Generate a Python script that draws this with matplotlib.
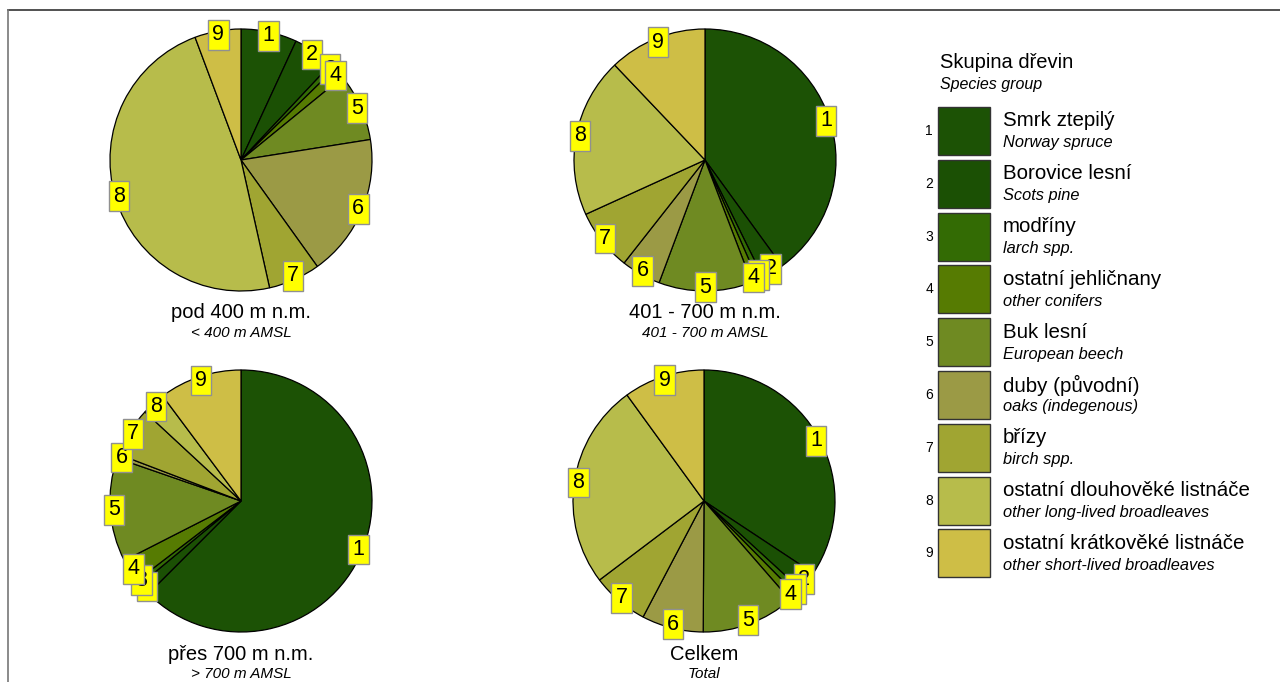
import matplotlib
matplotlib.use("Agg")
import matplotlib.pyplot as plt
from matplotlib.lines import Line2D
from matplotlib.patches import Rectangle

plt.rcParams['font.family'] = ['Liberation Sans', 'DejaVu Sans']

# Species groups (legend)
group_ids = ['1', '2', '3', '4', '5', '6', '7', '8', '9']
names_cz = ['Smrk ztepilý', 'Borovice lesní', 'modříny', 'ostatní jehličnany',
            'Buk lesní', 'duby (původní)', 'břízy',
            'ostatní dlouhověké listnáče', 'ostatní krátkověké listnáče']
names_en = ['Norway spruce', 'Scots pine', 'larch spp.', 'other conifers',
            'European beech', 'oaks (indegenous)', 'birch spp.',
            'other long-lived broadleaves', 'other short-lived broadleaves']
colors = ['#1c5205', '#1b5004', '#336b04', '#567b02', '#6f8a22',
          '#9b9a45', '#a0a532', '#b7bc4b', '#cebe46']

# Shares (%) per altitude zone
share_below400 = [6.9, 5.1, 0.7, 1.4, 8.4, 17.6, 6.4, 47.8, 5.7]
share_401_700 = [40.0, 2.7, 0.7, 0.8, 11.5, 4.9, 7.6, 19.7, 12.1]
share_above700 = [62.5, 1.5, 0.6, 2.9, 12.8, 0.5, 6.1, 2.9, 10.2]
share_total = [34.3, 2.5, 0.8, 1.0, 11.5, 7.6, 7.0, 25.3, 10.0]

titles_cz = ['pod 400 m n.m.', '401 - 700 m n.m.', 'přes 700 m n.m.', 'Celkem']
titles_en = ['< 400 m AMSL', '401 - 700 m AMSL', '> 700 m AMSL', 'Total']

W, H = 1280, 682
fig = plt.figure(figsize=(W / 100, H / 100), dpi=100)

# pie centres in pixels (x, y from top), radius
centres = [(241, 160), (705, 160), (241, 501), (704, 501)]
R = 131
all_shares = [share_below400, share_401_700, share_above700, share_total]

for (cx, cy), shares, t_cz, t_en in zip(centres, all_shares, titles_cz, titles_en):
    ax = fig.add_axes([(cx - R) / W, (H - cy - R) / H, 2 * R / W, 2 * R / H])
    wedges, texts = ax.pie(shares, colors=colors, labels=group_ids,
                           startangle=90, counterclock=False,
                           labeldistance=0.97,
                           wedgeprops=dict(edgecolor='black', linewidth=0.9),
                           textprops=dict(fontsize=15.5,
                                          bbox=dict(boxstyle='square,pad=0.2',
                                                    fc='#ffff00', ec='#909090', lw=1)))
    for t in texts:
        t.set_horizontalalignment('center')
        t.set_verticalalignment('center')
    ax.set_xlim(-1, 1)
    ax.set_ylim(-1, 1)
    ax.set_aspect('equal')
    ax.axis('off')
    fig.text(cx / W, 1 - (cy + R + 22) / H, t_cz, ha='center', va='center', fontsize=14.5)
    fig.text(cx / W, 1 - (cy + R + 42) / H, t_en, ha='center', va='center',
             fontsize=11, style='italic')

# Legend
fig.text(940 / W, 1 - 62 / H, 'Skupina dřevin', ha='left', va='center', fontsize=14.5)
fig.text(940 / W, 1 - 84 / H, 'Species group', ha='left', va='center', fontsize=11.5,
         style='italic')
top0 = 107
step = 52.8
for i, (gid, cz, en, col) in enumerate(zip(group_ids, names_cz, names_en, colors)):
    y0 = top0 + i * step
    fig.patches.append(Rectangle((938 / W, 1 - (y0 + 48) / H), 52 / W, 48 / H,
                                 transform=fig.transFigure, fc=col, ec='#333333', lw=1))
    fig.text(929 / W, 1 - (y0 + 24) / H, gid, ha='center', va='center', fontsize=10)
    fig.text(1003 / W, 1 - (y0 + 14) / H, cz, ha='left', va='center', fontsize=14.8)
    fig.text(1003 / W, 1 - (y0 + 36) / H, en, ha='left', va='center', fontsize=11.8,
             style='italic')

# frame lines
fig.lines.append(Line2D([8 / W, 1], [1 - 10 / H, 1 - 10 / H], transform=fig.transFigure,
                        color='#333333', lw=1.2))
fig.lines.append(Line2D([8 / W, 8 / W], [0, 1 - 10 / H], transform=fig.transFigure,
                        color='#777777', lw=1.2))

fig.savefig('out.png', dpi=100, facecolor='white')
